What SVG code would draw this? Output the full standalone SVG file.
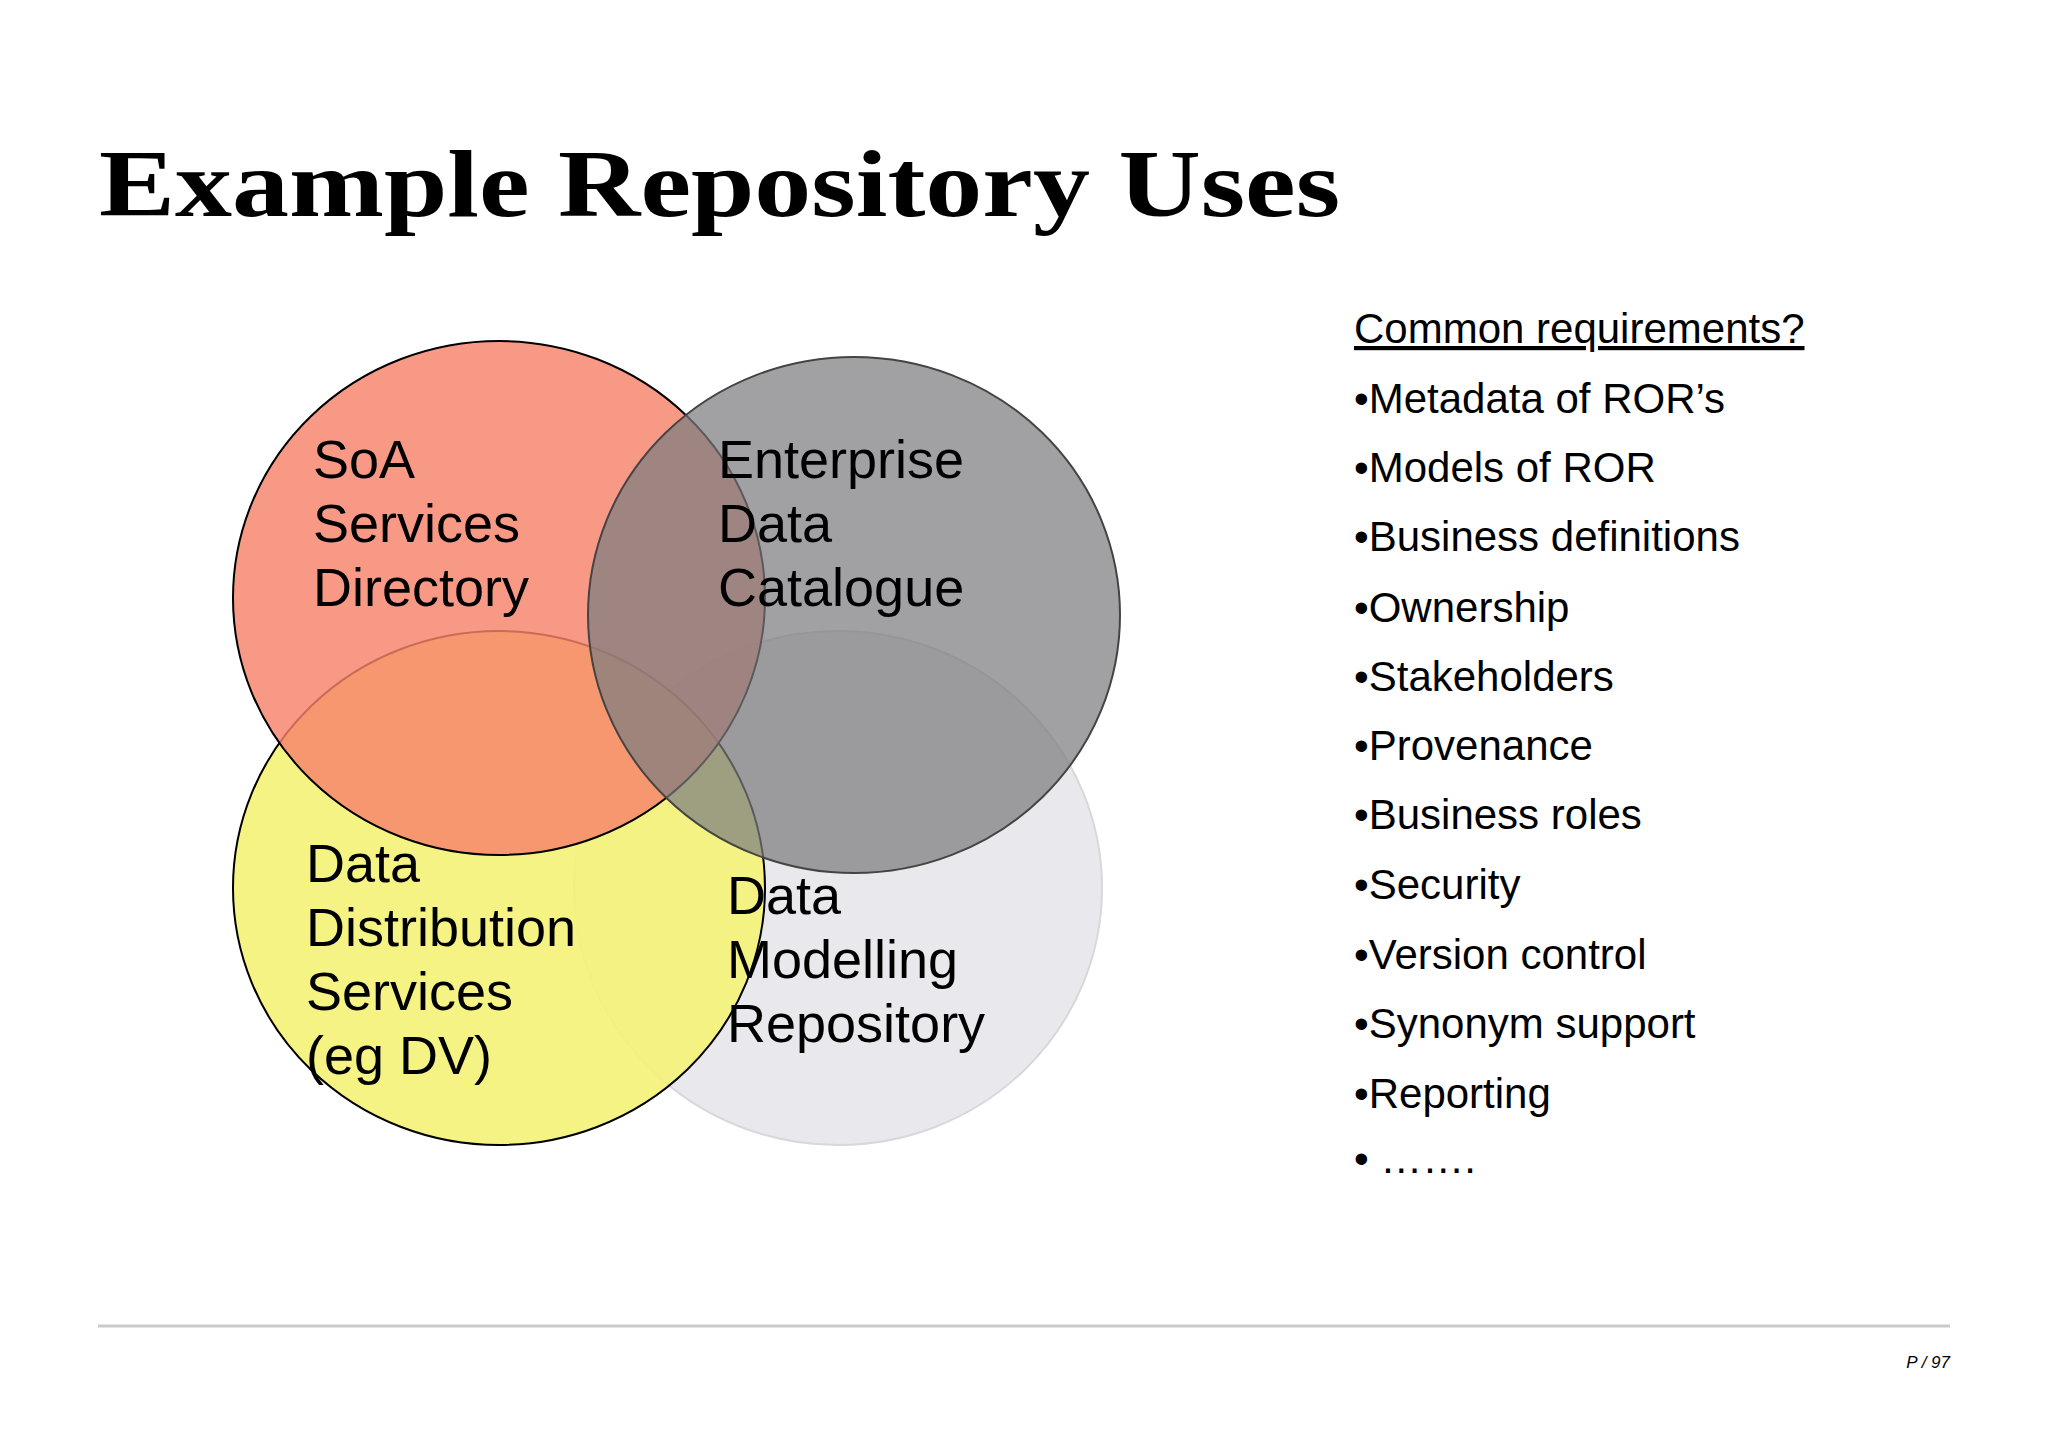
<svg xmlns="http://www.w3.org/2000/svg" width="2048" height="1448" viewBox="0 0 2048 1448">
<style>
.t{font-family:"Liberation Sans",Arial,sans-serif;fill:#000}
.c{font-size:54px}
.l{font-size:42px}
.title{font-family:"Liberation Serif","Times New Roman",serif;font-weight:bold;font-size:96px;fill:#000}
</style>
<rect width="2048" height="1448" fill="#fff"/>
<text class="title" x="99" y="216" textLength="1241" lengthAdjust="spacingAndGlyphs">Example Repository Uses</text>
<g id="venn">
<ellipse id="dmr" cx="838" cy="888" rx="264" ry="257" fill="#e9e9ed" stroke="#d8d8dc" stroke-width="2"/>
<ellipse id="dds" cx="499" cy="888" rx="266" ry="257" fill="#f4f27a" fill-opacity="0.92" stroke="#000" stroke-width="2"/>
<ellipse id="soa" cx="499" cy="598" rx="266" ry="257" fill="#f6836a" fill-opacity="0.82" stroke="#000" stroke-width="2"/>
<ellipse id="edc" cx="854" cy="615" rx="266" ry="258" fill="#7d7d7f" fill-opacity="0.72" stroke="#444" stroke-width="2"/>
</g>
<g id="labels" class="t c">
<text x="313" y="478">SoA</text><text x="313" y="542">Services</text><text x="313" y="606">Directory</text>
<text x="718" y="478">Enterprise</text><text x="718" y="542">Data</text><text x="718" y="606">Catalogue</text>
<text x="306" y="882">Data</text><text x="306" y="946">Distribution</text><text x="306" y="1010">Services</text><text x="306" y="1074">(eg DV)</text>
<text x="727" y="914">Data</text><text x="727" y="978">Modelling</text><text x="727" y="1042">Repository</text>
</g>
<g id="list" class="t l">
<text x="1354" y="343" text-decoration="underline">Common requirements?</text>
<text x="1354" y="413">•Metadata of ROR’s</text>
<text x="1354" y="482">•Models of ROR</text>
<text x="1354" y="551">•Business definitions</text>
<text x="1354" y="622">•Ownership</text>
<text x="1354" y="691">•Stakeholders</text>
<text x="1354" y="760">•Provenance</text>
<text x="1354" y="829">•Business roles</text>
<text x="1354" y="899">•Security</text>
<text x="1354" y="969">•Version control</text>
<text x="1354" y="1038">•Synonym support</text>
<text x="1354" y="1108">•Reporting</text>
<text x="1354" y="1173">•  …….</text>
</g>
<line x1="98" y1="1326" x2="1950" y2="1326" stroke="#c8cccc" stroke-width="3"/>
<text x="1950" y="1368" text-anchor="end" font-family="Liberation Sans,sans-serif" font-style="italic" font-size="17" fill="#000">P / 97</text>
</svg>
